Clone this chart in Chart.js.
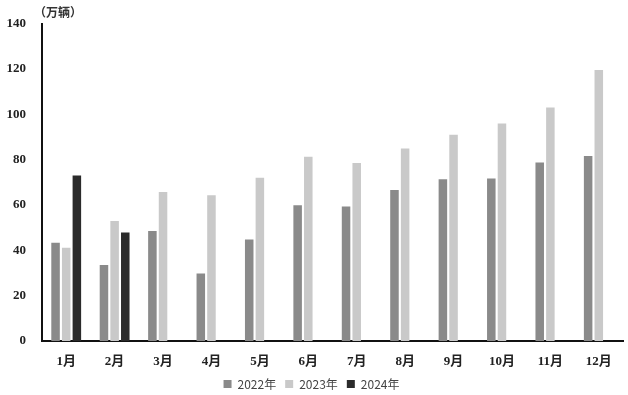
<!DOCTYPE html>
<html>
<head>
<meta charset="utf-8">
<script src="https://cdn.jsdelivr.net/npm/chart.js@4/dist/chart.umd.min.js"></script>
<style>
  html, body { margin: 0; padding: 0; background: #fff; }
  #wrap { width: 628px; height: 395px; }
</style>
</head>
<body>
<div id="wrap"><canvas id="myChart"></canvas></div>
<script>
// data (万辆)
const months = ["1月","2月","3月","4月","5月","6月","7月","8月","9月","10月","11月","12月"];
const sales2022 = [43.4, 33.5, 48.5, 29.8, 44.8, 59.9, 59.4, 66.7, 71.4, 71.7, 78.8, 81.7];
const sales2023 = [41.2, 53.0, 65.8, 64.3, 72.1, 81.3, 78.6, 85.0, 91.0, 96.0, 103.1, 119.6];
const sales2024 = [73.1, 47.9, null, null, null, null, null, null, null, null, null, null];
const yTicks = [0, 20, 40, 60, 80, 100, 120, 140];

const font = "'Noto Sans CJK SC', 'Noto Sans', sans-serif";
const tickFont = "'Liberation Serif', 'Noto Sans CJK SC', serif";

// unit label at top left
const unitLabel = {
  id: "unitLabel",
  afterDraw(chart) {
    const ctx = chart.ctx;
    ctx.save();
    ctx.font = "bold 12px " + font;
    ctx.fillStyle = "#333";
    ctx.textBaseline = "middle";
    ctx.textAlign = "left";
    ctx.fillText("（万辆）", chart.chartArea.left - 8, 12);
    ctx.restore();
  }
};

new Chart("myChart", {
  type: "bar",
  data: {
    labels: months,
    datasets: [{
      label: "2022年",
      data: sales2022,
      backgroundColor: "#8a8a8a"
    }, {
      label: "2023年",
      data: sales2023,
      backgroundColor: "#c9c9c9"
    }, {
      label: "2024年",
      data: sales2024,
      backgroundColor: "#2b2b2b"
    }]
  },
  options: {
    responsive: true,
    maintainAspectRatio: false,
    animation: false,
    datasets: {
      bar: { categoryPercentage: 0.66, barPercentage: 0.8 }
    },
    layout: { padding: { top: 21, right: 5, left: 0, bottom: -5 } },
    plugins: {
      legend: {
        position: "bottom",
        labels: {
          boxWidth: 8,
          boxHeight: 8,
          padding: 9,
          color: "#444",
          font: { family: font, size: 12, lineHeight: 1 }
        }
      },
      tooltip: { enabled: false }
    },
    scales: {
      x: {
        grid: { display: false, drawTicks: false },
        border: { display: true, color: "#111", width: 2 },
        ticks: { color: "#222", padding: 13, font: { family: tickFont, size: 13, weight: "bold" } },
        afterFit(scale) { scale.height = 28; }
      },
      y: {
        min: 0,
        max: 140,
        grid: { display: false, drawTicks: false },
        border: { display: true, color: "#111", width: 2 },
        afterBuildTicks(scale) { scale.ticks = yTicks.map(v => ({ value: v })); },
        ticks: { color: "#222", padding: 16, font: { family: tickFont, size: 13, weight: "bold" } },
        afterFit(scale) { scale.width = 42; }
      }
    }
  },
  plugins: [unitLabel]
});
</script>
</body>
</html>
